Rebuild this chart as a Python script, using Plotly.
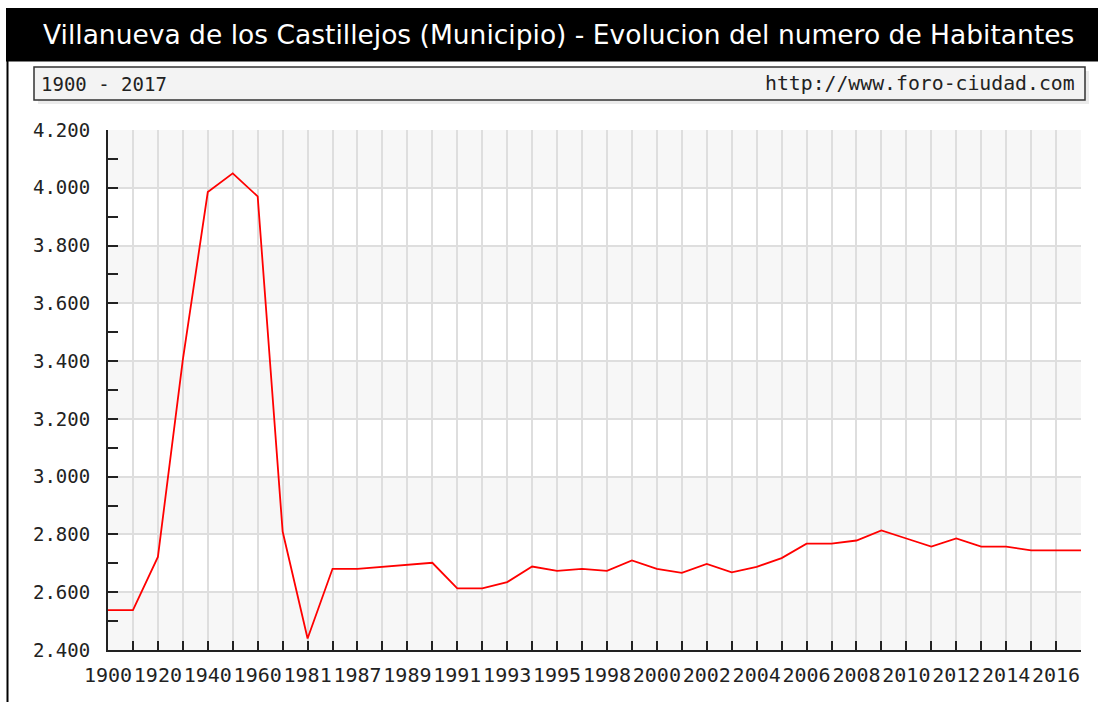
import plotly.graph_objects as go

# ---- data ----
years = ["1900", "1910", "1920", "1930", "1940", "1950", "1960", "1970", "1981", "1986",
         "1987", "1988", "1989", "1990", "1991", "1992", "1993", "1994", "1995", "1996",
         "1998", "1999", "2000", "2001", "2002", "2003", "2004", "2005", "2006", "2007",
         "2008", "2009", "2010", "2011", "2012", "2013", "2014", "2015", "2016", "2017"]
habitantes = [2538, 2538, 2722, 3405, 3985, 4050, 3970, 2810, 2440, 2681,
              2681, 2688, 2696, 2702, 2613, 2613, 2635, 2689, 2674, 2681,
              2674, 2710, 2681, 2667, 2698, 2669, 2688, 2718, 2768, 2768,
              2779, 2814, 2786, 2758, 2786, 2758, 2758, 2745, 2745, 2745]
tick_labels = [y if i % 2 == 0 else "" for i, y in enumerate(years)]
y_ticks = [2400, 2600, 2800, 3000, 3200, 3400, 3600, 3800, 4000, 4200]

title_text = "Villanueva de los Castillejos (Municipio) - Evolucion del numero de Habitantes"
period_text = "1900 - 2017"
site_text = "http://www.foro-ciudad.com"

# ---- layout geometry (pixels) ----
W, H = 1098, 702
L, R, T, B = 108, 1081, 130, 650

def px(xp):
    return (xp - L) / (R - L)

def py(yp):
    return (B - yp) / (B - T)

mono = "DejaVu Sans Mono"
sans = "DejaVu Sans"

fig = go.Figure()
fig.add_trace(go.Scatter(x=years, y=habitantes, mode="lines",
                         line=dict(color="#ff0000", width=1.8),
                         hoverinfo="x+y", showlegend=False))

shapes = []
# alternating horizontal bands
for i in range(len(y_ticks) - 1):
    if i % 2 == 0:
        shapes.append(dict(type="rect", xref="paper", yref="y", x0=0, x1=1,
                           y0=y_ticks[i], y1=y_ticks[i + 1],
                           fillcolor="#f7f7f7", line=dict(width=0), layer="below"))
# title bar
shapes.append(dict(type="rect", xref="paper", yref="paper",
                   x0=px(6), x1=px(1098), y0=py(61.5), y1=py(8),
                   fillcolor="#000000", line=dict(width=0), layer="above"))
# left frame line
shapes.append(dict(type="line", xref="paper", yref="paper",
                   x0=px(7.5), x1=px(7.5), y0=py(61), y1=py(702),
                   line=dict(color="#000000", width=2), layer="above"))
# subtitle box shadow
shapes.append(dict(type="rect", xref="paper", yref="paper",
                   x0=px(38), x1=px(1089), y0=py(104), y1=py(71),
                   fillcolor="#ebebeb", line=dict(width=0), layer="above"))
# subtitle box
shapes.append(dict(type="rect", xref="paper", yref="paper",
                   x0=px(34), x1=px(1085), y0=py(100), y1=py(67),
                   fillcolor="#f3f3f3", line=dict(color="#333333", width=1.5), layer="above"))

annotations = [
    dict(text=title_text, xref="paper", yref="paper", x=px(558), y=py(35),
         xanchor="center", yanchor="middle", showarrow=False,
         font=dict(family=sans, size=26.5, color="#ffffff")),
    dict(text=period_text, xref="paper", yref="paper", x=px(39), y=py(83.5),
         xanchor="left", yanchor="middle", showarrow=False,
         font=dict(family=mono, size=19, color="#222222")),
    dict(text=site_text, xref="paper", yref="paper", x=px(1077), y=py(83.5),
         xanchor="right", yanchor="middle", showarrow=False,
         font=dict(family=mono, size=19.8, color="#222222")),
]

fig.update_layout(
    width=W, height=H,
    margin=dict(l=L, r=W - R, t=T, b=H - B, pad=0),
    paper_bgcolor="#ffffff", plot_bgcolor="#ffffff",
    separators=",.",
    shapes=shapes, annotations=annotations,
    showlegend=False,
    xaxis=dict(type="category", range=[0, len(years) - 1],
               tickmode="array", tickvals=years, ticktext=tick_labels,
               ticks="inside", ticklen=9, tickwidth=2, tickcolor="#222222",
               showline=True, linecolor="#222222", linewidth=2,
               showgrid=True, gridcolor="#dedede", gridwidth=2,
               tickangle=0, ticklabelstandoff=6,
               tickfont=dict(family=mono, size=20, color="#222222"),
               fixedrange=True),
    yaxis=dict(range=[2400, 4200], tickmode="array", tickvals=y_ticks,
               tickformat=",d",
               ticks="inside", ticklen=10, tickwidth=2, tickcolor="#222222",
               showline=True, linecolor="#222222", linewidth=2,
               showgrid=True, gridcolor="#dedede", gridwidth=2,
               zeroline=False,
               minor=dict(dtick=100, tick0=2400, ticks="inside", ticklen=10,
                          tickwidth=2, tickcolor="#222222", showgrid=False),
               ticklabelstandoff=12,
               tickfont=dict(family=mono, size=19, color="#222222"),
               fixedrange=True),
)

fig.write_html("out.html", config={"displayModeBar": False},
               post_script="document.body.style.margin='0';")
